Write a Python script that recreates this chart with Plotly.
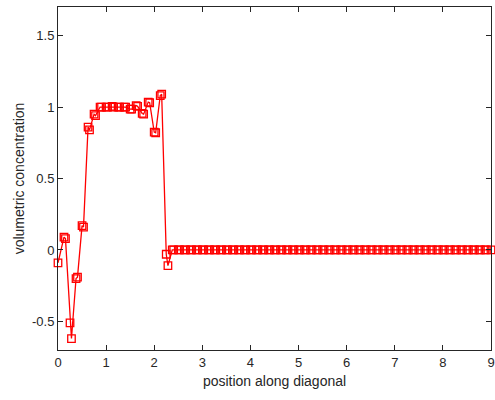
import plotly.graph_objects as go

# positions along the diagonal (paired samples)
x_vals = [0.0,
          0.125, 0.155, 0.25, 0.28, 0.375, 0.405, 0.5, 0.53, 0.625, 0.655,
          0.75, 0.78, 0.875, 0.905, 1.0, 1.03, 1.125, 1.155, 1.25, 1.28,
          1.375, 1.405, 1.5, 1.53, 1.625, 1.655, 1.75, 1.78, 1.875, 1.905,
          2.0, 2.03, 2.125, 2.155, 2.25, 2.285]
y_vals = [-0.09,
          0.09, 0.08, -0.51, -0.62, -0.20, -0.19, 0.17, 0.16, 0.86, 0.84,
          0.95, 0.94, 1.0, 1.0, 1.0, 1.0, 1.005, 1.0, 1.0, 1.0,
          1.0, 1.0, 0.985, 0.985, 1.01, 1.005, 0.955, 0.95, 1.035, 1.03,
          0.825, 0.82, 1.08, 1.09, -0.03, -0.11]

# flat tail (all zero) from 2.375 to 9
tail_x = [2.375 + 0.125 * i for i in range(54)]
tail_x_pair = [v + 0.03 for v in tail_x[:-1]]
for a, b in zip(tail_x[:-1], tail_x_pair):
    x_vals += [a, b]
    y_vals += [0.0, 0.0]
x_vals.append(9.0)
y_vals.append(0.0)

x_ticks = [0, 1, 2, 3, 4, 5, 6, 7, 8, 9]
y_ticks = [-0.5, 0, 0.5, 1, 1.5]
y_tick_labels = ["-0.5", "0", "0.5", "1", "1.5"]

RED = "#ff0000"
AX = "#262626"

fig = go.Figure()
fig.add_trace(go.Scatter(
    x=x_vals, y=y_vals, mode="lines+markers",
    line=dict(color=RED, width=1.3),
    marker=dict(symbol="square-open", size=7.5, color=RED, line=dict(width=1.3, color=RED)),
    showlegend=False, cliponaxis=False,
))

axis_common = dict(
    showline=True, linecolor=AX, linewidth=1, mirror="ticks",
    ticks="inside", ticklen=5, tickcolor=AX, tickwidth=1,
    showgrid=False, zeroline=False, automargin=False,
    tickfont=dict(family="Liberation Sans, Arial, sans-serif", size=13, color=AX),
)

fig.update_layout(
    width=495, height=400,
    margin=dict(l=58, r=4, t=7, b=50, autoexpand=False),
    paper_bgcolor="white", plot_bgcolor="white",
    font=dict(family="Liberation Sans, Arial, sans-serif", color=AX),
    xaxis=dict(range=[0, 9], tickvals=x_ticks,
               title=dict(text="position along diagonal", font=dict(size=14, color=AX), standoff=7),
               **axis_common),
    yaxis=dict(range=[-0.7, 1.7], tickvals=y_ticks, ticktext=y_tick_labels,
               title=dict(text="volumetric concentration", font=dict(size=14, color=AX), standoff=4),
               **axis_common),
)

fig.write_html("out.html", config={"displayModeBar": False},
               post_script="document.body.style.margin='0px';")
